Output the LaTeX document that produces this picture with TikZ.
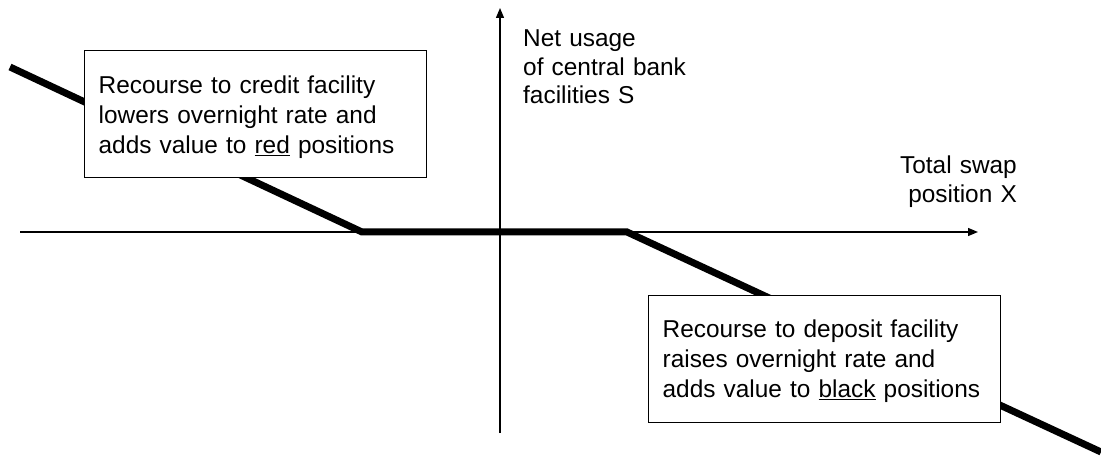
\documentclass[tikz,border=0pt]{standalone}
\usepackage{fontspec}
\setmainfont{Liberation Sans}
\usetikzlibrary{arrows.meta}
\begin{document}
\begin{tikzpicture}[x=1pt,y=-1pt,
  axis/.style={line width=1.3pt, -{Triangle[length=10pt,width=8pt]}},
  curve/.style={line width=7pt, line join=miter},
  notebox/.style={draw, line width=1.3pt, fill=white, inner xsep=14pt, inner ysep=0pt,
    align=left, font=\fontsize{24.4}{30}\selectfont, text height=42.7pt, text depth=84.3pt,
    anchor=north west},
  axislabel/.style={inner sep=0pt, font=\fontsize{24.4}{28.5}\selectfont}]
\useasboundingbox (0,0) rectangle (1101,457);
% thick curve
\coordinate (c0) at (10,67);
\coordinate (c1) at (362,232);
\coordinate (c2) at (627,232);
\coordinate (c3) at (1101,452);
\draw[curve] (c0) -- (c1) -- (c2) -- (c3);
% axes
\coordinate (xs) at (20,232);
\coordinate (xe) at (978,232);
\coordinate (ys) at (500,433);
\coordinate (ye) at (500,8);
\draw[axis] (xs) -- (xe);
\draw[axis] (ys) -- (ye);
% labels
\node[axislabel, text width=180pt, align=left, anchor=base west] (ylab) at (523,47)
  {Net usage\\of central bank\\facilities S};
\node[axislabel, text width=140pt, align=right, anchor=base east] (xlab) at (1017,174)
  {Total swap\\position X};
% boxes
\node[notebox, text width=314pt] (credit) at (84,50)
  {Recourse to credit facility\\lowers overnight rate and\\adds value to \underline{red} positions};
\node[notebox, text width=324pt, text height=42.3pt, text depth=84.7pt] (deposit) at (648,295)
  {Recourse to deposit facility\\raises overnight rate and\\adds value to \underline{black} positions};
\end{tikzpicture}
\end{document}
